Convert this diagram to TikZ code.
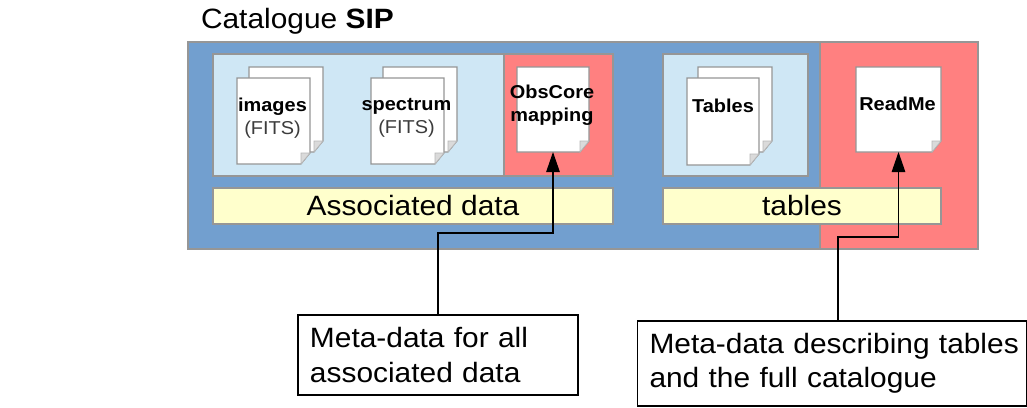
\documentclass[tikz,border=0pt]{standalone}
\usepackage{fontspec}
\setmainfont[FakeStretch=1.07]{Liberation Sans}
\usepackage{xcolor}
\usepackage{tikz}
\usetikzlibrary{positioning, arrows.meta}
\definecolor{sipBlue}{RGB}{114, 159, 207}
\definecolor{sipRed}{RGB}{255, 128, 128}
\definecolor{sipLight}{RGB}{207, 231, 245}
\definecolor{sipYellow}{RGB}{255, 255, 204}
\definecolor{sipEdge}{RGB}{150, 150, 150}
\definecolor{sipFits}{RGB}{60, 60, 60}
\tikzset{
    base/.style={
        inner sep=0pt,
        outer sep=0pt,
        align=center
    },
    panel/.style={
        base,
        rectangle,
        draw=sipEdge,
        line width=0.6pt
    },
    bar/.style={
        panel,
        fill=sipYellow,
        font=\fontsize{15.9}{19}\selectfont
    },
    sheet/.style={
        base,
        rectangle
    },
    sheetname/.style={
        base,
        font=\fontsize{10.6}{13}\selectfont
    },
    note/.style={
        base,
        rectangle,
        draw=black,
        line width=0.6pt,
        fill=white,
        align=left,
        font=\fontsize{15.9}{19.6}\selectfont
    },
    flow/.style={
        -{Triangle[length=4mm, width=2.7mm]},
        line width=0.7pt,
        color=black
    }
}
% one sheet of paper with a folded corner
\newcommand{\docsheet}[4]{%
  \node[sheet, minimum width=#3, minimum height=#4] (#1) at (#2) {};
  \draw[sipEdge, line width=0.6pt, fill=white] (#1.north west) -- (#1.north east)
    -- ([yshift=2.2mm]#1.south east) -- ([xshift=-1.8mm]#1.south east) -- (#1.south west) -- cycle;
  \draw[sipEdge!70, line width=0.4pt, fill=sipEdge!35] ([yshift=2.2mm]#1.south east)
    -- ([xshift=-1.8mm, yshift=2.2mm]#1.south east) -- ([xshift=-1.8mm]#1.south east) -- cycle;
}

\begin{document}
\begin{tikzpicture}[x=0.2mm, y=-0.2mm]
  \useasboundingbox (0,0) rectangle (1027,407);

  % Catalogue frame
  \node[panel, fill=sipBlue, minimum width=158mm, minimum height=41.4mm] (catalogue) at (583,145.5) {};
  \node[panel, fill=sipRed, minimum width=31.6mm, minimum height=41.4mm] (catalogueRed) at (899,145.5) {};
  \node[base, anchor=west, font=\fontsize{15.9}{19}\selectfont] (catalogueTitle) at (201,21) {Catalogue \textbf{SIP}};

  % Panels
  \node[panel, fill=sipLight, minimum width=58.2mm, minimum height=24.4mm] (assocPanel) at (358.5,115) {};
  \node[panel, fill=sipRed, minimum width=21.8mm, minimum height=24.4mm] (obscorePanel) at (558.5,115) {};
  \node[panel, fill=sipLight, minimum width=29mm, minimum height=24.4mm] (tablesPanel) at (735.5,115) {};
  \node[bar, minimum width=80mm, minimum height=7.2mm] (assocBar) at (413,206) {Associated data};
  \node[bar, minimum width=55.6mm, minimum height=7.2mm] (tablesBar) at (802,206) {tables};

  % Sheets
  \docsheet{imagesBack}{286,109.5}{14.8mm}{17mm}
  \docsheet{imagesFront}{273.5,121}{14.6mm}{17.2mm}
  \docsheet{spectrumBack}{420,109.5}{14.8mm}{17mm}
  \docsheet{spectrumFront}{407.5,121}{14.6mm}{17.2mm}
  \docsheet{obscoreSheet}{553,109.5}{14.4mm}{17mm}
  \docsheet{tablesBack}{735,109.5}{14.8mm}{17mm}
  \docsheet{tablesFront}{723,121.5}{14.4mm}{17.4mm}
  \docsheet{readmeSheet}{898.5,109.5}{17mm}{17mm}

  \node[sheetname] (imagesName) at (272.5,118) {\textbf{images}\\\textcolor{sipFits}{(FITS)}};
  \node[sheetname] (spectrumName) at (406.5,118) {\textbf{spectrum}\\\textcolor{sipFits}{(FITS)}};
  \node[sheetname] (obscoreName) at (552,105.5) {\textbf{ObsCore}\\\textbf{mapping}};
  \node[sheetname] (tablesName) at (723,106) {\textbf{Tables}};
  \node[sheetname] (readmeName) at (897.5,104) {\textbf{ReadMe}};

  % Notes
  \node[note, minimum width=56mm, minimum height=16mm, text width=51.2mm] (assocNote) at (438,355) {Meta-data for all\\associated data};
  \node[note, minimum width=77.8mm, minimum height=17mm, text width=73mm] (tablesNote) at (832,363.5) {\mbox{Meta-data describing tables}\\and the full catalogue};

  % Connectors
  \draw[flow] (assocNote.north) -- ++(0,-82) -| (obscoreSheet.south);
  \draw[flow] ([xshift=1.2mm]tablesNote.north) -- ++(0,-84) -| (readmeSheet.south);
\end{tikzpicture}
\end{document}
